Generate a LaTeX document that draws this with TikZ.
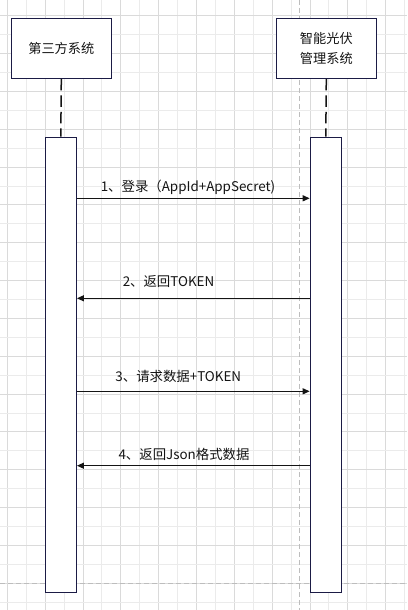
\documentclass[tikz,border=0pt]{standalone}
\usepackage{fontspec}
\setmainfont{Noto Sans CJK SC}
\usetikzlibrary{arrows.meta}
\definecolor{navy}{HTML}{1B1B45}
\definecolor{ink}{HTML}{141414}
\definecolor{gridA}{HTML}{DADADA}
\definecolor{gridB}{HTML}{EBEBEB}
\definecolor{pagebrk}{HTML}{BDBDBD}
\tikzset{
  sysbox/.style={draw=navy, line width=1.3pt, fill=white, minimum width=100pt, minimum height=60pt,
    inner sep=0pt, align=center, font=\fontsize{13.2}{20}\selectfont, text=ink},
  actbox/.style={draw=navy, line width=1.3pt, fill=white, minimum width=31pt, minimum height=455pt, inner sep=0pt},
  lifeline/.style={draw=ink, line width=1.5pt, dash pattern=on 11.5pt off 5pt},
  msg/.style={draw=ink, line width=1.3pt, -{Triangle[length=7pt,width=6pt]}},
  lbl/.style={font=\fontsize{13.4}{15}\selectfont, text=ink, inner sep=0pt},
  gridmaj/.style={draw=gridA, line width=0.9pt},
  gridmin/.style={draw=gridB, line width=0.9pt},
  brk/.style={draw=pagebrk, line width=1pt, dash pattern=on 5pt off 3pt}
}
\begin{document}
\begin{tikzpicture}[x=1pt,y=-1pt]
\useasboundingbox (0,0) rectangle (407,610);
\fill[white] (0,0) rectangle (407,610);
% grid
\foreach \i in {0,2,...,20} { \draw[gridmaj] ({7.3+18.92*\i},0) -- ({7.3+18.92*\i},610); }
\foreach \i in {1,3,...,21} { \draw[gridmin] ({7.3+18.92*\i},0) -- ({7.3+18.92*\i},610); }
\foreach \j in {0,2,...,30} { \draw[gridmaj] (0,{15.7+18.92*\j}) -- (407,{15.7+18.92*\j}); }
\foreach \j in {1,3,...,31} { \draw[gridmin] (0,{15.7+18.92*\j}) -- (407,{15.7+18.92*\j}); }
% page breaks
\draw[brk] (299.3,0) -- (299.3,610);
\draw[brk] (0,583.3) -- (407,583.3);
% participants
\node[sysbox] (sys1) at (61.3,48.3) {第三方系统};
\node[sysbox] (sys2) at (326.3,48.3) {智能光伏\\管理系统};
\node[actbox] (act1) at (60.8,364.7) {};
\node[actbox] (act2) at (325.8,364.7) {};
\draw[lifeline] (sys1.south) -- (act1.north);
\draw[lifeline] (sys2.south) -- (act2.north);
% messages
\coordinate (m1) at (0,198.3);
\coordinate (m2) at (0,298.3);
\coordinate (m3) at (0,391.3);
\coordinate (m4) at (0,465.7);
\draw[msg] (act1.east |- m1) -- (act2.west |- m1);
\draw[msg] (act2.west |- m2) -- (act1.east |- m2);
\draw[msg] (act1.east |- m3) -- (act2.west |- m3);
\draw[msg] (act2.west |- m4) -- (act1.east |- m4);
\node[lbl] (l1) at (188,187) {1、登录（AppId+AppSecret)};
\node[lbl] (l2) at (168.5,282) {2、返回TOKEN};
\node[lbl] (l3) at (178.3,376) {3、请求数据+TOKEN};
\node[lbl] (l4) at (184,454) {4、返回Json格式数据};
\end{tikzpicture}
\end{document}
